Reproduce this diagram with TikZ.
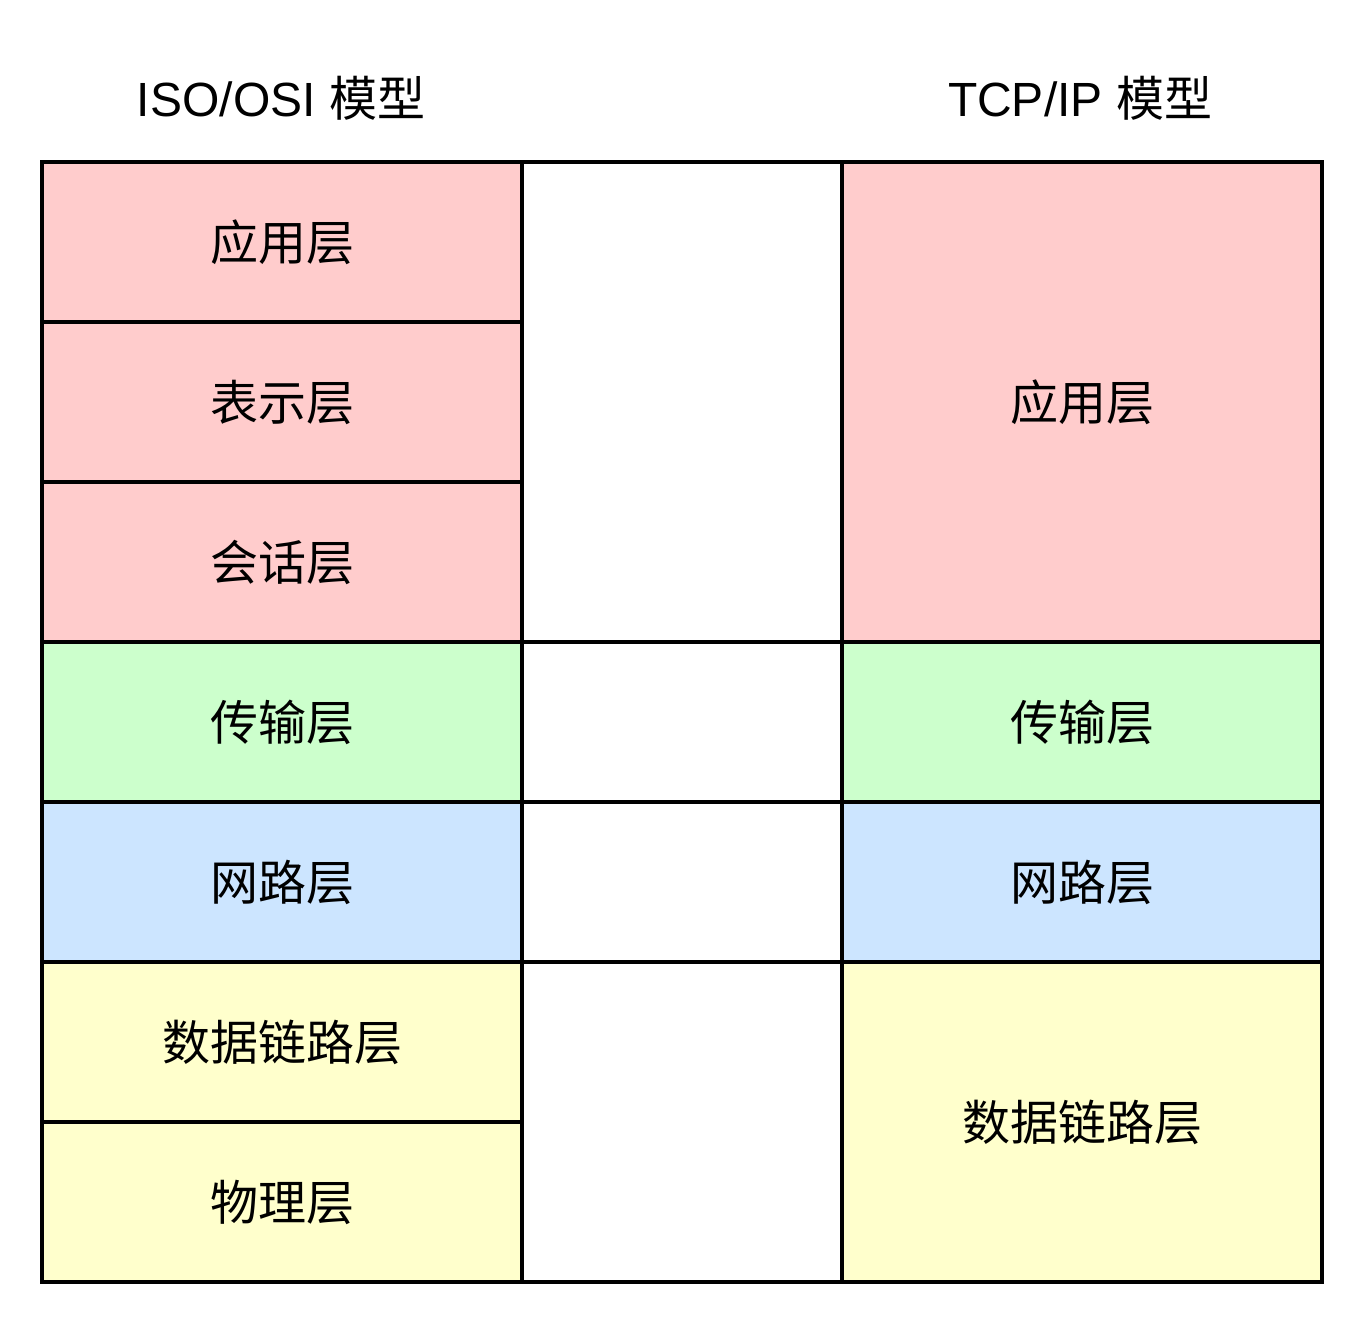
\documentclass[tikz,border=0pt]{standalone}
\usepackage{fontspec}
\setmainfont{Liberation Sans}
\newfontfamily\cjk{Noto Sans CJK SC}
\newcommand\lyrtext[1]{\raisebox{-18pt}[0pt][0pt]{#1}}
\definecolor{cpink}{HTML}{FFCCCC}
\definecolor{cgreen}{HTML}{CCFFCC}
\definecolor{cblue}{HTML}{CCE5FF}
\definecolor{cyellow}{HTML}{FFFFCC}
\begin{document}
\begin{tikzpicture}[x=1pt,y=-1pt,
  layer/.style={draw=black, line width=4pt, inner sep=0pt, outer sep=0pt,
    minimum width=480pt, font=\fontsize{48pt}{56pt}\cjk},
  gap/.style={draw=black, fill=white, line width=4pt, inner sep=0pt, outer sep=0pt, minimum width=320pt},
  title/.style={font=\fontsize{48pt}{56pt}\selectfont, anchor=base, inner sep=0pt}]
\useasboundingbox[fill=white] (0,0) rectangle (1364,1328);
% titles
\node[title] (t1) at (281,116) {ISO/OSI {\cjk 模型}};
\node[title] (t2) at (1080,116) {TCP/IP {\cjk 模型}};
% middle column
\node[gap, minimum height=480pt] (m1) at (682,402) {};
\node[gap, minimum height=160pt] (m2) at (682,722) {};
\node[gap, minimum height=160pt] (m3) at (682,882) {};
\node[gap, minimum height=320pt] (m4) at (682,1122) {};
% left column
\node[layer, fill=cpink, minimum height=160pt] (l1) at (282,242) {\lyrtext{应用层}};
\node[layer, fill=cpink, minimum height=160pt] (l2) at (282,402) {\lyrtext{表示层}};
\node[layer, fill=cpink, minimum height=160pt] (l3) at (282,562) {\lyrtext{会话层}};
\node[layer, fill=cgreen, minimum height=160pt] (l4) at (282,722) {\lyrtext{传输层}};
\node[layer, fill=cblue, minimum height=160pt] (l5) at (282,882) {\lyrtext{网路层}};
\node[layer, fill=cyellow, minimum height=160pt] (l6) at (282,1042) {\lyrtext{数据链路层}};
\node[layer, fill=cyellow, minimum height=160pt] (l7) at (282,1202) {\lyrtext{物理层}};
% right column
\node[layer, fill=cpink, minimum height=480pt] (r1) at (1082,402) {\lyrtext{应用层}};
\node[layer, fill=cgreen, minimum height=160pt] (r2) at (1082,722) {\lyrtext{传输层}};
\node[layer, fill=cblue, minimum height=160pt] (r3) at (1082,882) {\lyrtext{网路层}};
\node[layer, fill=cyellow, minimum height=320pt] (r4) at (1082,1122) {\lyrtext{数据链路层}};
\end{tikzpicture}
\end{document}
